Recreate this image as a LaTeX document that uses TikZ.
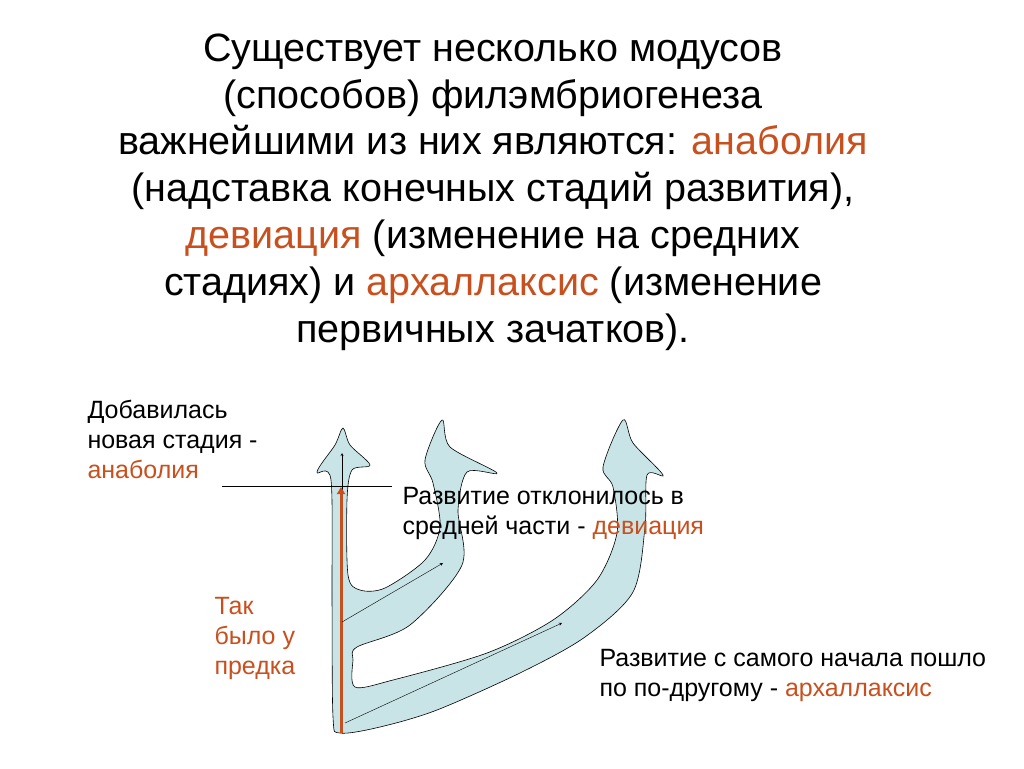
\documentclass[tikz,border=0pt]{standalone}
\usepackage{fontspec}
\setmainfont{Liberation Sans}
\usetikzlibrary{arrows.meta}
\definecolor{accent}{RGB}{200,80,30}
\definecolor{tube}{RGB}{200,228,230}
\begin{document}
\begin{tikzpicture}[x=1pt, y=-1pt, >=stealth]
\tikzstyle{title}=[align=center, font=\fontsize{39.5}{46.8}\selectfont]
\tikzstyle{note}=[align=left, anchor=north west, font=\fontsize{25}{30}\selectfont]
\useasboundingbox (0,0) rectangle (1024,768);
\node[title] (head) at (493,192) {Существует несколько модусов\\(способов) филэмбриогенеза\\важнейшими из них являются: \textcolor{accent}{анаболия}\\(надставка конечных стадий развития),\\\textcolor{accent}{девиация} (изменение на средних\\стадиях) и \textcolor{accent}{архаллаксис} (изменение\\первичных зачатков).};
% tree of development
\draw[fill=tube, line width=0.6pt] plot[smooth cycle, tension=0.5] coordinates {
(333,717) (332,600) (331,480) (317,472) (335,445) (343,428) (350,445) (370,465)
(352,470) (347,500) (348,575) (360,590) (385,588) (425,560) (440,527) (433,483)
(425,460) (442,420) (450,447) (497,473) (467,472) (458,510) (462,565) (410,625)
(357,647) (353,660) (355,687) (393,680) (487,653) (553,620) (597,580) (617,533)
(613,487) (603,467) (623,420) (633,443) (663,475) (647,475) (645,527) (633,592)
(585,637) (522,672) (437,710) (380,727) (340,733)};
\coordinate (root) at (341,733);
\coordinate (fork) at (342,622);
\coordinate (base) at (345,723);
\coordinate (tipA) at (342,453);
\coordinate (cut) at (341,487);
\coordinate (tipD) at (443,563);
\coordinate (tipR) at (562,623);
\draw[->, thin] (342,712) -- (tipA);
\draw[-{Triangle[length=7pt,width=8pt]}, line width=3pt, accent] (root) -- (cut);
\draw[->, thin] (fork) -- (tipD);
\draw[->, thin] (base) -- (tipR);
\draw[thin] (222,486) -- (392,486);
\node[note] (ana) at (84,397) {Добавилась\\новая стадия -\\\textcolor{accent}{анаболия}};
\node[note] (dev) at (399,484) {Развитие отклонилось в\\средней части - \textcolor{accent}{девиация}};
\node[note, text=accent] (anc) at (211,594) {Так\\было у\\предка};
\node[note] (arch) at (596,646) {Развитие с самого начала пошло\\по по-другому - \textcolor{accent}{архаллаксис}};
\end{tikzpicture}
\end{document}
